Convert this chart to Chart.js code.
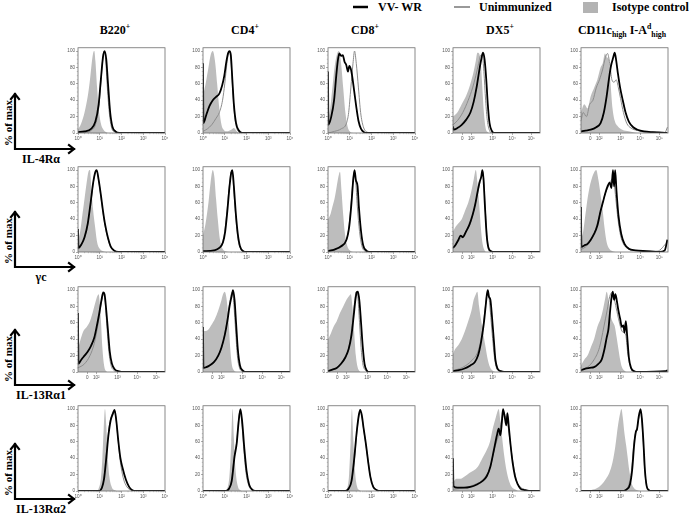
<!DOCTYPE html>
<html>
<head>
<meta charset="utf-8">
<script src="https://cdn.jsdelivr.net/npm/chart.js@4.4.0/dist/chart.umd.min.js"></script>
<style>
  body { margin: 0; background: #fff; width: 689px; height: 521px; position: relative; overflow: hidden;
         font-family: 'Liberation Serif', 'Times New Roman', serif; }
  .panel { position: absolute; }
  .lbl { position: absolute; font-weight: bold; color: #000; white-space: nowrap; line-height: 1; }
  sup, sub { font-size: 65%; line-height: 0; }
</style>
</head>
<body>
<svg id="deco" width="689" height="521" style="position:absolute;left:0;top:0"></svg>
<script>
// ---- labels / ticks ----
const colLabels = ['B220<sup>+</sup>', 'CD4<sup>+</sup>', 'CD8<sup>+</sup>', 'DX5<sup>+</sup>',
  'CD11c<sub>high</sub> I-A<sup>d</sup><sub>high</sub>'];
const rowLabels = ['IL-4Rα', 'γc', 'IL-13Rα1', 'IL-13Rα2'];
const seriesNames = ['VV- WR', 'Unimmunized', 'Isotype control'];
const logTickValues = [0, 1, 2, 3, 4];
const logTickLabels = ['10⁰', '10¹', '10²', '10³', '10⁴'];
const biexTickValues = [0.43, 0.84, 1.82, 2.72, 3.6];
const biexTickLabels = ['0', '10²', '10³', '10⁴', '10⁵'];
const yTickValues = [0, 20, 40, 60, 80, 100];
const axisKinds = [
  ['log', 'log', 'log', 'biex', 'biex'],
  ['log', 'log', 'log', 'biex', 'biex'],
  ['biex', 'biex', 'biex', 'biex', 'biex'],
  ['log', 'log', 'log', 'biex', 'biex']
];

// ---- data: [position on axis, % of max] ----
// IL-4Ra
const il4_b220_iso = [[0,4],[0.15,12],[0.3,25],[0.45,45],[0.55,65],[0.63,85],[0.7,98],[0.75,100],[0.8,88],[0.88,55],[0.95,30],[1.05,12],[1.15,5],[1.3,1],[1.45,0],[4,0]];
const il4_b220_un  = [[0,0],[0.4,1],[0.6,3],[0.8,10],[0.95,30],[1.05,60],[1.13,88],[1.2,100],[1.27,90],[1.35,55],[1.45,22],[1.55,6],[1.7,1],[1.9,0],[4,0]];
const il4_b220_vv  = [[0,1],[0.3,2],[0.6,5],[0.8,14],[0.95,35],[1.05,65],[1.15,93],[1.22,100],[1.3,90],[1.38,60],[1.48,25],[1.58,8],[1.72,2],[1.9,0],[4,0]];
const il4_cd4_iso = [[0,45],[0.12,60],[0.25,80],[0.35,95],[0.45,100],[0.55,88],[0.65,60],[0.75,30],[0.85,10],[0.95,4],[1.1,2],[1.3,4],[1.42,6],[1.55,2],[1.7,0],[4,0]];
const il4_cd4_un  = [[0,2],[0.2,5],[0.4,10],[0.6,18],[0.75,25],[0.9,40],[1.0,60],[1.1,85],[1.2,100],[1.28,90],[1.36,55],[1.45,22],[1.55,6],[1.7,1],[1.9,0],[4,0]];
const il4_cd4_vv  = [[0,85],[0.02,12],[0.15,22],[0.3,33],[0.45,40],[0.6,44],[0.75,48],[0.88,58],[0.98,70],[1.08,88],[1.16,98],[1.22,100],[1.28,95],[1.35,65],[1.42,35],[1.52,12],[1.65,3],[1.8,0],[4,0]];
const il4_cd8_iso = [[0,15],[0.1,30],[0.2,55],[0.3,80],[0.4,95],[0.5,100],[0.6,85],[0.7,55],[0.8,25],[0.9,8],[1.0,2],[1.15,0],[4,0]];
const il4_cd8_un  = [[0,0],[0.3,2],[0.6,5],[0.85,12],[0.95,25],[1.05,55],[1.15,85],[1.22,100],[1.3,85],[1.4,55],[1.5,25],[1.62,8],[1.8,1],[2,0],[4,0]];
const il4_cd8_vv  = [[0,75],[0.02,10],[0.15,20],[0.28,40],[0.38,70],[0.45,88],[0.52,97],[0.6,94],[0.68,95],[0.76,87],[0.84,83],[0.92,75],[0.98,82],[1.05,78],[1.12,68],[1.2,52],[1.3,32],[1.4,15],[1.52,5],[1.65,1],[1.8,0],[4,0]];
const il4_dx5_iso = [[0,20],[0.2,25],[0.4,35],[0.6,45],[0.8,60],[0.95,75],[1.05,88],[1.12,98],[1.2,97],[1.28,85],[1.35,55],[1.42,25],[1.5,6],[1.6,1],[1.7,0],[4,0]];
const il4_dx5_un  = [[0,10],[0.2,15],[0.45,25],[0.7,40],[0.9,55],[1.05,70],[1.18,85],[1.28,95],[1.35,95],[1.42,75],[1.5,40],[1.58,15],[1.68,3],[1.8,0],[4,0]];
const il4_dx5_vv  = [[0,8],[0.03,4],[0.2,6],[0.4,10],[0.6,16],[0.8,25],[0.95,38],[1.08,55],[1.2,75],[1.3,90],[1.38,98],[1.45,90],[1.53,65],[1.6,35],[1.68,12],[1.78,3],[1.9,0],[4,0]];
const il4_cd11_iso = [[0,25],[0.15,35],[0.3,30],[0.45,45],[0.6,55],[0.75,65],[0.9,80],[1.0,85],[1.1,97],[1.2,92],[1.28,90],[1.36,60],[1.45,30],[1.55,15],[1.7,8],[1.9,4],[2.2,2],[2.6,0],[4,0]];
const il4_cd11_un  = [[0,15],[0.1,25],[0.25,20],[0.4,35],[0.55,40],[0.7,55],[0.85,65],[1.0,78],[1.12,92],[1.22,97],[1.32,85],[1.42,65],[1.52,62],[1.62,65],[1.72,55],[1.82,42],[1.95,25],[2.1,12],[2.3,6],[2.6,3],[3.0,1],[3.6,1],[3.85,0],[3.97,7]];
const il4_cd11_vv  = [[0,2],[0.2,3],[0.45,4],[0.7,7],[0.9,12],[1.05,25],[1.18,45],[1.28,65],[1.38,82],[1.48,92],[1.55,98],[1.62,88],[1.7,72],[1.8,55],[1.92,40],[2.05,25],[2.2,14],[2.4,7],[2.6,4],[2.9,2],[3.3,1],[3.97,0]];
// gamma c
const gc_b220_iso = [[0,15],[0.1,25],[0.2,45],[0.3,65],[0.4,85],[0.48,98],[0.55,100],[0.62,75],[0.7,50],[0.78,32],[0.88,12],[1.0,4],[1.15,1],[1.3,0],[4,0]];
const gc_b220_un  = [[0,3],[0.15,8],[0.3,17],[0.45,33],[0.58,58],[0.7,84],[0.8,97],[0.86,99],[0.95,87],[1.05,68],[1.15,48],[1.25,31],[1.38,16],[1.5,6],[1.65,2],[1.85,0],[4,0]];
const gc_b220_vv  = [[0,28],[0.02,5],[0.15,9],[0.3,18],[0.45,35],[0.58,60],[0.7,85],[0.8,98],[0.86,100],[0.95,88],[1.05,70],[1.15,50],[1.25,33],[1.38,17],[1.5,7],[1.65,2],[1.85,0],[4,0]];
const gc_cd4_iso = [[0,20],[0.12,35],[0.25,60],[0.35,85],[0.45,100],[0.52,92],[0.6,65],[0.68,40],[0.78,15],[0.9,4],[1.05,1],[1.2,0],[4,0]];
const gc_cd4_un  = [[0,1],[0.5,2],[0.75,5],[0.9,12],[1.0,25],[1.1,50],[1.2,78],[1.3,98],[1.36,95],[1.43,70],[1.52,38],[1.62,14],[1.75,3],[1.9,0],[4,0]];
const gc_cd4_vv  = [[0,1],[0.5,2],[0.75,5],[0.92,12],[1.02,25],[1.12,50],[1.22,80],[1.3,97],[1.35,100],[1.42,80],[1.5,50],[1.6,22],[1.7,7],[1.85,1],[2.0,0],[4,0]];
const gc_cd8_iso = [[0,40],[0.1,45],[0.2,55],[0.3,65],[0.4,80],[0.48,92],[0.55,98],[0.62,75],[0.7,45],[0.78,22],[0.88,8],[1.0,2],[1.15,0],[4,0]];
const gc_cd8_un  = [[0,2],[0.4,4],[0.7,8],[0.9,20],[1.0,40],[1.08,65],[1.15,88],[1.2,98],[1.27,88],[1.35,55],[1.45,25],[1.55,8],[1.7,1],[1.85,0],[4,0]];
const gc_cd8_vv  = [[0,1],[0.3,3],[0.6,7],[0.85,15],[0.98,32],[1.08,60],[1.16,88],[1.22,100],[1.28,88],[1.36,80],[1.42,55],[1.52,25],[1.62,8],[1.75,2],[1.9,0],[4,0]];
const gc_dx5_iso = [[0,25],[0.1,30],[0.25,35],[0.4,40],[0.55,50],[0.7,60],[0.85,75],[0.95,88],[1.05,100],[1.12,85],[1.2,60],[1.28,30],[1.36,10],[1.45,2],[1.55,0],[4,0]];
const gc_dx5_un  = [[0,5],[0.2,12],[0.4,18],[0.6,25],[0.8,35],[0.95,50],[1.08,65],[1.2,80],[1.3,92],[1.37,98],[1.43,80],[1.5,45],[1.58,15],[1.68,3],[1.8,0],[4,0]];
const gc_dx5_vv  = [[0,5],[0.1,8],[0.25,15],[0.35,20],[0.45,18],[0.6,25],[0.75,33],[0.9,45],[1.02,58],[1.12,72],[1.22,85],[1.3,92],[1.35,100],[1.4,90],[1.47,55],[1.55,20],[1.63,5],[1.75,1],[1.9,0],[4,0]];
const gc_cd11_iso = [[0,15],[0.1,25],[0.2,45],[0.3,65],[0.4,80],[0.5,90],[0.6,97],[0.7,100],[0.8,88],[0.9,70],[1.0,50],[1.08,30],[1.18,12],[1.3,4],[1.45,1],[1.6,0],[4,0]];
const gc_cd11_un  = [[0,3],[0.2,6],[0.4,12],[0.6,22],[0.8,40],[0.95,55],[1.1,70],[1.22,78],[1.35,85],[1.45,90],[1.52,85],[1.6,65],[1.7,40],[1.82,20],[1.95,10],[2.15,4],[2.4,2],[3.5,1],[3.97,12]];
const gc_cd11_vv  = [[0,55],[0.02,6],[0.15,8],[0.3,10],[0.45,15],[0.6,22],[0.75,32],[0.9,50],[1.02,62],[1.12,72],[1.22,80],[1.32,85],[1.4,78],[1.47,100],[1.52,80],[1.57,100],[1.63,75],[1.72,45],[1.85,22],[2.0,10],[2.2,4],[2.5,2],[3.0,1],[3.6,0],[3.85,2],[3.97,15]];
// IL-13Ra1
const r1_b220_iso = [[0,28],[0.1,38],[0.25,50],[0.4,55],[0.55,62],[0.7,75],[0.8,85],[0.88,92],[0.95,95],[1.0,85],[1.06,60],[1.12,30],[1.2,8],[1.3,1],[1.4,0],[4,0]];
const r1_b220_un  = [[0,5],[0.3,10],[0.55,20],[0.75,35],[0.9,55],[1.0,72],[1.1,88],[1.18,95],[1.25,85],[1.33,55],[1.42,25],[1.52,8],[1.65,2],[1.8,0],[4,0]];
const r1_b220_vv  = [[0,72],[0.02,10],[0.15,15],[0.3,20],[0.45,25],[0.6,32],[0.75,42],[0.88,58],[0.98,72],[1.08,88],[1.16,97],[1.22,95],[1.3,75],[1.38,50],[1.46,25],[1.56,10],[1.7,3],[1.85,1],[2.0,0],[4,0]];
const r1_cd4_iso = [[0,50],[0.1,50],[0.25,52],[0.4,58],[0.55,65],[0.7,75],[0.82,85],[0.92,95],[1.0,98],[1.08,90],[1.18,60],[1.25,30],[1.32,10],[1.42,2],[1.55,0],[4,0]];
const r1_cd4_un  = [[0,4],[0.3,7],[0.6,15],[0.8,25],[0.95,40],[1.1,62],[1.2,80],[1.3,95],[1.36,98],[1.42,82],[1.5,50],[1.58,20],[1.68,5],[1.8,1],[1.95,0],[4,0]];
const r1_cd4_vv  = [[0,55],[0.02,5],[0.15,6],[0.3,8],[0.5,12],[0.7,20],[0.85,30],[1.0,45],[1.12,62],[1.22,80],[1.32,93],[1.38,100],[1.45,88],[1.52,60],[1.6,28],[1.7,8],[1.82,2],[1.95,0],[4,0]];
const r1_cd8_iso = [[0,40],[0.1,45],[0.25,55],[0.4,62],[0.55,72],[0.7,80],[0.85,88],[0.95,92],[1.05,95],[1.12,80],[1.2,50],[1.28,20],[1.36,6],[1.45,1],[1.55,0],[4,0]];
const r1_cd8_un  = [[0,2],[0.3,4],[0.6,10],[0.85,20],[1.0,35],[1.12,60],[1.22,85],[1.3,98],[1.37,92],[1.45,60],[1.52,30],[1.6,10],[1.72,2],[1.85,0],[4,0]];
const r1_cd8_vv  = [[0,1],[0.2,3],[0.4,5],[0.6,10],[0.8,18],[0.95,28],[1.08,45],[1.18,68],[1.26,88],[1.32,97],[1.38,98],[1.45,85],[1.52,60],[1.6,30],[1.68,10],[1.78,2],[1.9,0],[4,0]];
const r1_dx5_iso = [[0,22],[0.1,28],[0.25,33],[0.4,40],[0.55,50],[0.7,62],[0.85,75],[0.95,88],[1.05,95],[1.12,98],[1.2,80],[1.3,62],[1.4,45],[1.5,30],[1.6,15],[1.7,6],[1.8,2],[1.95,0],[4,0]];
const r1_dx5_un  = [[0,2],[0.3,4],[0.6,8],[0.9,15],[1.1,22],[1.25,35],[1.38,55],[1.48,78],[1.56,95],[1.62,97],[1.68,85],[1.76,60],[1.84,35],[1.92,15],[2.0,5],[2.12,1],[2.3,0],[4,0]];
const r1_dx5_vv  = [[0,1],[0.2,2],[0.5,4],[0.8,8],[1.0,12],[1.15,20],[1.3,38],[1.42,60],[1.5,80],[1.56,95],[1.6,100],[1.65,92],[1.72,88],[1.8,65],[1.88,38],[1.95,15],[2.05,4],[2.2,1],[2.35,0],[4,0]];
const r1_cd11_iso = [[0,8],[0.15,15],[0.3,20],[0.45,30],[0.6,40],[0.75,55],[0.9,65],[1.0,75],[1.1,88],[1.18,98],[1.25,90],[1.32,75],[1.4,65],[1.48,60],[1.56,55],[1.64,42],[1.72,28],[1.8,15],[1.88,6],[1.98,2],[2.1,0],[3.9,0],[3.97,2]];
const r1_cd11_un  = [[0,3],[0.3,6],[0.6,15],[0.85,30],[1.05,55],[1.2,75],[1.32,92],[1.42,97],[1.52,90],[1.62,78],[1.75,62],[1.88,50],[1.98,48],[2.06,45],[2.14,25],[2.25,8],[2.4,2],[2.6,0],[3.9,1],[3.97,3]];
const r1_cd11_vv  = [[0,2],[0.2,4],[0.4,5],[0.6,6],[0.8,10],[0.95,15],[1.08,28],[1.18,42],[1.26,52],[1.33,72],[1.4,90],[1.46,98],[1.52,88],[1.58,95],[1.64,88],[1.72,75],[1.8,65],[1.88,55],[1.95,57],[2.0,48],[2.06,62],[2.12,45],[2.2,18],[2.3,5],[2.45,1],[2.6,0],[3.9,1],[3.97,2]];
// IL-13Ra2
const r2_b220_iso = [[0,0],[0.85,0],[0.95,3],[1.05,15],[1.12,40],[1.18,75],[1.24,100],[1.3,80],[1.36,45],[1.44,18],[1.55,5],[1.7,1],[1.85,0],[4,0]];
const r2_b220_un  = [[0,0],[0.95,0],[1.1,4],[1.2,18],[1.3,45],[1.4,72],[1.5,88],[1.6,96],[1.68,98],[1.76,85],[1.85,60],[1.95,35],[2.08,16],[2.25,5],[2.45,1],[2.6,0],[4,0]];
const r2_b220_vv  = [[0,0],[0.95,0],[1.1,4],[1.2,15],[1.3,40],[1.4,68],[1.5,86],[1.6,94],[1.68,99],[1.76,86],[1.85,62],[1.95,40],[2.05,28],[2.2,14],[2.35,5],[2.5,1],[2.65,0],[4,0]];
const r2_cd4_iso = [[0,0],[1.0,0],[1.12,3],[1.22,20],[1.3,60],[1.36,100],[1.42,65],[1.5,25],[1.6,6],[1.72,1],[1.85,0],[4,0]];
const r2_cd4_un  = [[0,0],[1.05,0],[1.2,4],[1.32,15],[1.45,45],[1.55,60],[1.63,85],[1.7,98],[1.78,85],[1.88,50],[1.98,22],[2.1,7],[2.25,1],[2.4,0],[4,0]];
const r2_cd4_vv  = [[0,0],[1.05,0],[1.2,3],[1.32,12],[1.45,42],[1.55,58],[1.63,82],[1.72,100],[1.8,85],[1.9,52],[2.0,25],[2.12,8],[2.25,2],[2.4,0],[4,0]];
const r2_cd8_iso = [[0,0],[0.75,0],[0.88,3],[0.97,20],[1.04,60],[1.1,100],[1.16,65],[1.24,25],[1.33,6],[1.45,1],[1.6,0],[4,0]];
const r2_cd8_un  = [[0,0],[0.8,0],[0.95,3],[1.08,12],[1.2,35],[1.32,70],[1.42,92],[1.48,97],[1.55,92],[1.64,75],[1.75,55],[1.85,35],[1.95,18],[2.08,6],[2.25,1],[2.4,0],[4,0]];
const r2_cd8_vv  = [[0,0],[0.8,0],[0.95,3],[1.08,12],[1.2,38],[1.32,72],[1.42,93],[1.48,99],[1.55,93],[1.64,76],[1.75,56],[1.85,35],[1.95,17],[2.08,5],[2.25,1],[2.4,0],[4,0]];
const r2_dx5_iso = [[0,10],[0.15,15],[0.35,15],[0.55,18],[0.75,22],[0.95,25],[1.15,30],[1.35,40],[1.55,50],[1.7,60],[1.82,75],[1.95,88],[2.02,95],[2.1,100],[2.18,85],[2.26,65],[2.36,42],[2.46,25],[2.58,12],[2.7,5],[2.85,2],[3.0,0],[4,0]];
const r2_dx5_un  = [[0,2],[0.3,3],[0.7,5],[1.0,8],[1.3,12],[1.5,18],[1.7,28],[1.85,45],[2.0,60],[2.12,70],[2.22,85],[2.32,97],[2.42,90],[2.5,85],[2.6,65],[2.7,45],[2.8,28],[2.92,12],[3.05,6],[3.2,3],[3.4,1],[3.6,0],[4,0]];
const r2_dx5_vv  = [[0,40],[0.02,6],[0.2,4],[0.5,4],[0.8,5],[1.1,8],[1.35,12],[1.55,18],[1.72,30],[1.88,50],[2.02,68],[2.1,76],[2.18,68],[2.25,85],[2.3,100],[2.38,90],[2.45,80],[2.5,95],[2.56,80],[2.64,58],[2.74,35],[2.85,18],[2.98,8],[3.1,3],[3.3,1],[3.5,0],[4,0]];
const r2_cd11_iso = [[0,0],[0.4,1],[0.7,3],[0.95,8],[1.15,15],[1.3,22],[1.45,35],[1.58,55],[1.7,80],[1.8,95],[1.86,100],[1.92,90],[2.0,70],[2.08,55],[2.14,42],[2.22,25],[2.32,10],[2.45,3],[2.6,1],[2.75,0],[4,0]];
const r2_cd11_un  = [[0,0],[1.9,0],[2.05,2],[2.2,8],[2.32,25],[2.42,55],[2.5,70],[2.58,75],[2.65,88],[2.72,95],[2.78,90],[2.85,65],[2.92,30],[3.0,8],[3.1,2],[3.25,0],[4,0]];
const r2_cd11_vv  = [[0,0],[1.95,0],[2.1,2],[2.25,8],[2.35,25],[2.45,58],[2.52,72],[2.58,76],[2.65,90],[2.74,100],[2.8,88],[2.87,60],[2.94,25],[3.02,6],[3.12,1],[3.25,0],[4,0]];

const panels = [
  [[il4_b220_iso, il4_b220_un, il4_b220_vv], [il4_cd4_iso, il4_cd4_un, il4_cd4_vv], [il4_cd8_iso, il4_cd8_un, il4_cd8_vv], [il4_dx5_iso, il4_dx5_un, il4_dx5_vv], [il4_cd11_iso, il4_cd11_un, il4_cd11_vv]],
  [[gc_b220_iso, gc_b220_un, gc_b220_vv], [gc_cd4_iso, gc_cd4_un, gc_cd4_vv], [gc_cd8_iso, gc_cd8_un, gc_cd8_vv], [gc_dx5_iso, gc_dx5_un, gc_dx5_vv], [gc_cd11_iso, gc_cd11_un, gc_cd11_vv]],
  [[r1_b220_iso, r1_b220_un, r1_b220_vv], [r1_cd4_iso, r1_cd4_un, r1_cd4_vv], [r1_cd8_iso, r1_cd8_un, r1_cd8_vv], [r1_dx5_iso, r1_dx5_un, r1_dx5_vv], [r1_cd11_iso, r1_cd11_un, r1_cd11_vv]],
  [[r2_b220_iso, r2_b220_un, r2_b220_vv], [r2_cd4_iso, r2_cd4_un, r2_cd4_vv], [r2_cd8_iso, r2_cd8_un, r2_cd8_vv], [r2_dx5_iso, r2_dx5_un, r2_dx5_vv], [r2_cd11_iso, r2_cd11_un, r2_cd11_vv]]
];

// ---- layout ----
const colX = [78, 203, 328, 453, 581];
const rowY = [46, 165, 285, 404];
const boxW = 87, boxH = 87;
const padL = 14, padT = 2, padR = 5, padB = 10;
const arrowY = [149, 267, 385, 499];
const headerX = [115, 245, 365, 500, 622];

// frame + minor ticks
const framePlugin = {
  id: 'frame',
  afterDraw(chart) {
    const { ctx, chartArea: a, scales } = chart;
    ctx.save();
    ctx.strokeStyle = '#6d6d6d';
    ctx.lineWidth = 0.8;
    ctx.strokeRect(a.left, a.top, a.right - a.left, a.bottom - a.top);
    ctx.strokeStyle = '#888';
    ctx.lineWidth = 0.5;
    ctx.beginPath();
    for (let v = 5; v <= 100; v += 5) {
      if (v % 20 === 0) continue;
      const y = scales.y.getPixelForValue(v);
      ctx.moveTo(a.left, y); ctx.lineTo(a.left - 1.2, y);
    }
    if (chart.options.kind === 'log') {
      for (let d = 0; d < 4; d++) {
        for (let k = 2; k < 10; k++) {
          const x = scales.x.getPixelForValue(d + Math.log10(k));
          ctx.moveTo(x, a.bottom); ctx.lineTo(x, a.bottom + 1.2);
        }
      }
    }
    ctx.stroke();
    ctx.restore();
  }
};

function makePanel(r, c) {
  const kind = axisKinds[r][c];
  const [iso, un, vv] = panels[r][c];
  const wrap = document.createElement('div');
  wrap.className = 'panel';
  wrap.style.left = (colX[c] - padL) + 'px';
  wrap.style.top = (rowY[r] - padT) + 'px';
  const cv = document.createElement('canvas');
  cv.width = boxW + padL + padR;
  cv.height = boxH + padT + padB;
  wrap.appendChild(cv);
  document.body.appendChild(wrap);

  const tickVals = kind === 'log' ? logTickValues : biexTickValues;
  const tickLabs = kind === 'log' ? logTickLabels : biexTickLabels;
  const tickFont = { family: 'Arial, Liberation Sans, sans-serif', size: 4.6 };

  new Chart(cv, {
    type: 'line',
    data: {
      datasets: [
        { label: seriesNames[2], data: iso, fill: 'origin', backgroundColor: '#bdbdbd',
          borderWidth: 0, borderColor: 'rgba(0,0,0,0)', order: 3 },
        { label: seriesNames[1], data: un, fill: false, borderColor: '#8c8c8c', borderWidth: 1, order: 2 },
        { label: seriesNames[0], data: vv, fill: false, borderColor: '#000', borderWidth: 1.8, order: 1 }
      ]
    },
    options: {
      kind: kind,
      responsive: false,
      animation: false,
      events: [],
      layout: { autoPadding: false, padding: { left: 0, top: padT, right: padR, bottom: 0 } },
      elements: { point: { radius: 0 }, line: { cubicInterpolationMode: 'monotone' } },
      plugins: { legend: { display: false }, tooltip: { enabled: false } },
      scales: {
        x: {
          type: 'linear', min: 0, max: 4,
          afterBuildTicks: s => { s.ticks = tickVals.map(v => ({ value: v })); },
          afterFit: s => { s.height = padB; },
          ticks: { autoSkip: false, maxRotation: 0, padding: 0.5, font: tickFont, color: '#555',
                   callback: (v, i) => tickLabs[i] },
          grid: { drawOnChartArea: false, tickLength: 2, color: '#777', lineWidth: 0.6 },
          border: { display: false }
        },
        y: {
          type: 'linear', min: 0, max: 104,
          afterBuildTicks: s => { s.ticks = yTickValues.map(v => ({ value: v })); },
          afterFit: s => { s.width = padL; },
          ticks: { autoSkip: false, padding: 1, font: tickFont, color: '#555' },
          grid: { drawOnChartArea: false, tickLength: 2, color: '#777', lineWidth: 0.6 },
          border: { display: false }
        }
      }
    },
    plugins: [framePlugin]
  });
}

for (let r = 0; r < 4; r++) for (let c = 0; c < 5; c++) makePanel(r, c);

// ---- headers ----
colLabels.forEach((t, c) => {
  const d = document.createElement('div');
  d.className = 'lbl';
  d.style.fontSize = '12px';
  d.style.left = headerX[c] + 'px';
  d.style.top = '24px';
  d.style.transform = 'translateX(-50%)';
  d.innerHTML = t;
  document.body.appendChild(d);
});

// ---- legend ----
const svg = document.getElementById('deco');
const NS = 'http://www.w3.org/2000/svg';
function el(name, attrs, text) {
  const e = document.createElementNS(NS, name);
  for (const k in attrs) e.setAttribute(k, attrs[k]);
  if (text) e.textContent = text;
  svg.appendChild(e);
  return e;
}
const legFont = { 'font-family': 'Liberation Serif, Times New Roman, serif', 'font-weight': 'bold', 'font-size': 12 };
el('line', { x1: 353, y1: 7, x2: 368, y2: 7, stroke: '#000', 'stroke-width': 2.5 });
el('text', Object.assign({ x: 378, y: 11 }, legFont), seriesNames[0]);
el('line', { x1: 454, y1: 7, x2: 470, y2: 7, stroke: '#999', 'stroke-width': 2 });
el('text', Object.assign({ x: 479, y: 11 }, legFont), seriesNames[1]);
el('rect', { x: 583, y: 2, width: 15, height: 11, fill: '#b3b3b3' });
el('text', Object.assign({ x: 612, y: 11 }, legFont), seriesNames[2]);

// ---- row axis arrows + labels ----
rowLabels.forEach((t, r) => {
  const cy = arrowY[r], tip = cy - 55, ax = 15, hx = 74;
  const st = { stroke: '#000', 'stroke-width': 2.2, fill: 'none', 'stroke-linecap': 'square' };
  el('polyline', Object.assign({ points: `${ax},${tip} ${ax},${cy} ${hx},${cy}` }, st));
  el('polyline', Object.assign({ points: `${ax - 4},${tip + 5} ${ax},${tip} ${ax + 4},${tip + 5}` }, st));
  el('polyline', Object.assign({ points: `${hx - 5},${cy - 4} ${hx},${cy} ${hx - 5},${cy + 4}` }, st));
  el('text', Object.assign({ x: 12, y: cy - 26, transform: `rotate(-90 12 ${cy - 26})`, 'text-anchor': 'middle' },
    legFont, { 'font-size': 11 }), '% of max');
  el('text', Object.assign({ x: 41, y: cy + 14, 'text-anchor': 'middle' }, legFont), t);
});
</script>
</body>
</html>
